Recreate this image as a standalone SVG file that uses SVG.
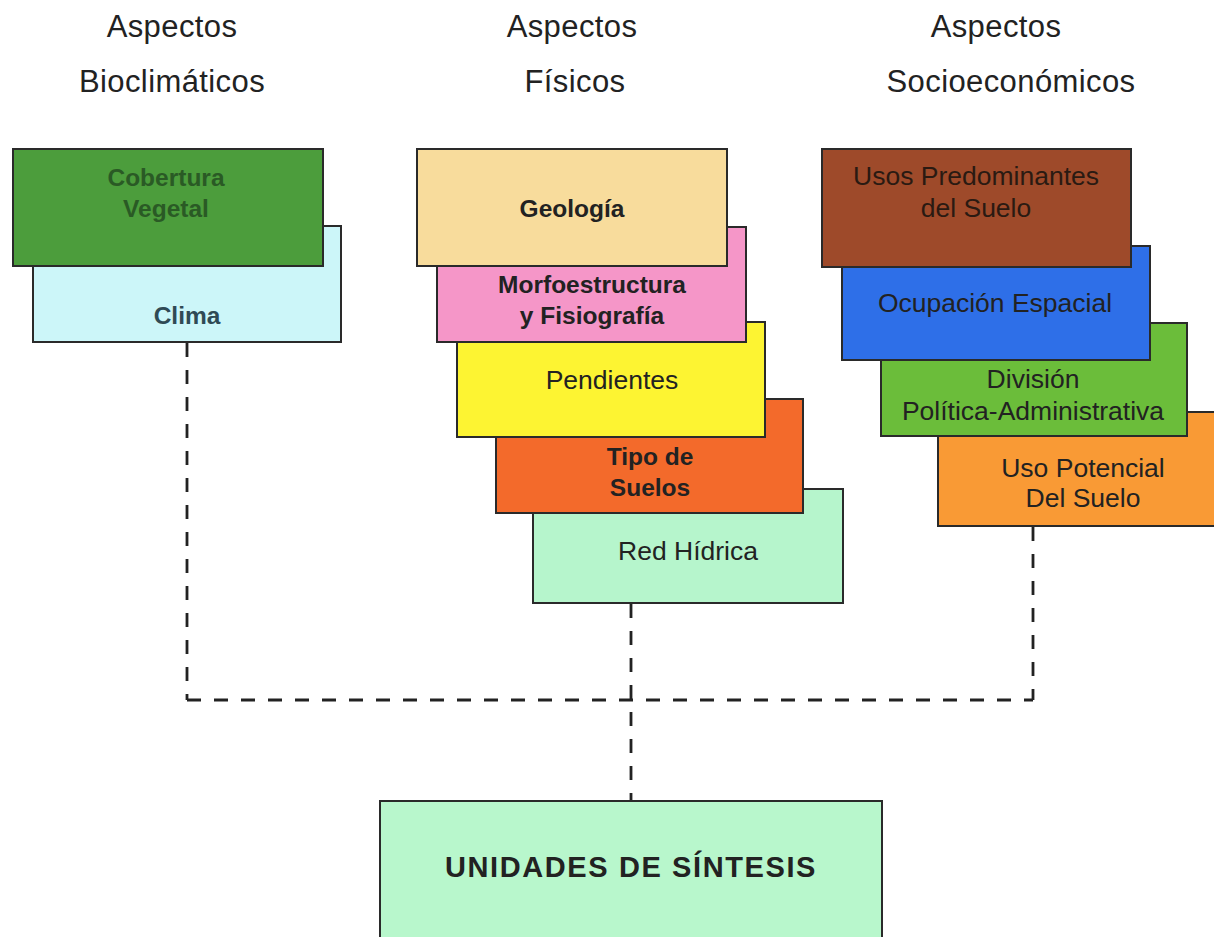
<svg xmlns="http://www.w3.org/2000/svg" width="1214" height="937" viewBox="0 0 1214 937">
<style>
.hdr{font-family:"Liberation Sans",Arial,sans-serif;font-size:31px;fill:#222;text-anchor:middle;letter-spacing:0.4px}
.box{stroke:#2a2a2a;stroke-width:2}
.t{font-family:"Liberation Sans",Arial,sans-serif;font-size:26.5px;fill:#222;text-anchor:middle}
.b{font-weight:bold;font-size:24.5px}
.dash{fill:none;stroke:#222;stroke-width:2.8;stroke-dasharray:14 13}
</style>
<rect width="1214" height="937" fill="#fff"/>
<g id="headers">
<text class="hdr" x="172" y="37">Aspectos</text>
<text class="hdr" x="172" y="92">Bioclimáticos</text>
<text class="hdr" x="572" y="37">Aspectos</text>
<text class="hdr" x="575" y="92">Físicos</text>
<text class="hdr" x="996" y="37">Aspectos</text>
<text class="hdr" x="1011" y="92">Socioeconómicos</text>
</g>
<g id="connectors">
<path class="dash" d="M187 343 V700"/>
<path class="dash" d="M1033 527 V700"/>
<path class="dash" d="M187 700 H1033"/>
<path class="dash" d="M631 604 V800"/>
</g>
<g id="clima"><rect class="box" x="33" y="226" width="308" height="116" fill="#ccf6f9"/><text class="t b" x="187" y="324" style="fill:#2f4a55">Clima</text></g>
<g id="cobertura"><rect class="box" x="13" y="149" width="310" height="117" fill="#4c9d3c"/><text class="t b" x="166" y="186" style="fill:#2a5a25">Cobertura</text><text class="t b" x="166" y="217" style="fill:#2a5a25">Vegetal</text></g>
<g id="red"><rect class="box" x="533" y="489" width="310" height="114" fill="#b6f5cc"/><text class="t" x="688" y="560">Red Hídrica</text></g>
<g id="tipo"><rect class="box" x="496" y="399" width="307" height="114" fill="#f36a2b"/><text class="t b" x="650" y="465">Tipo de</text><text class="t b" x="650" y="496">Suelos</text></g>
<g id="pendientes"><rect class="box" x="457" y="322" width="308" height="115" fill="#fdf432"/><text class="t" x="612" y="389">Pendientes</text></g>
<g id="morfo"><rect class="box" x="437" y="227" width="309" height="115" fill="#f596c8"/><text class="t b" x="592" y="293">Morfoestructura</text><text class="t b" x="592" y="324">y Fisiografía</text></g>
<g id="geologia"><rect class="box" x="417" y="149" width="310" height="117" fill="#f8dc9c"/><text class="t b" x="572" y="217">Geología</text></g>
<g id="usopot"><rect class="box" x="938" y="412" width="290" height="114" fill="#f99a35"/><text class="t" x="1083" y="477">Uso Potencial</text><text class="t" x="1083" y="507">Del Suelo</text></g>
<g id="division"><rect class="box" x="881" y="323" width="306" height="113" fill="#6bbd3a"/><text class="t" x="1033" y="388">División</text><text class="t" x="1033" y="420">Política-Administrativa</text></g>
<g id="ocupacion"><rect class="box" x="842" y="246" width="308" height="114" fill="#2e6fe8"/><text class="t" x="995" y="312">Ocupación Espacial</text></g>
<g id="usos"><rect class="box" x="822" y="149" width="309" height="118" fill="#9e4a2a"/><text class="t" x="976" y="185" style="fill:#2a1a12">Usos Predominantes</text><text class="t" x="976" y="217" style="fill:#2a1a12">del Suelo</text></g>
<g id="unidades"><rect class="box" x="380" y="801" width="502" height="145" fill="#b8f7cc" stroke-width="3"/><text class="t" x="631" y="877" style="font-size:29px;font-weight:bold;letter-spacing:1.6px">UNIDADES DE SÍNTESIS</text></g>
</svg>
